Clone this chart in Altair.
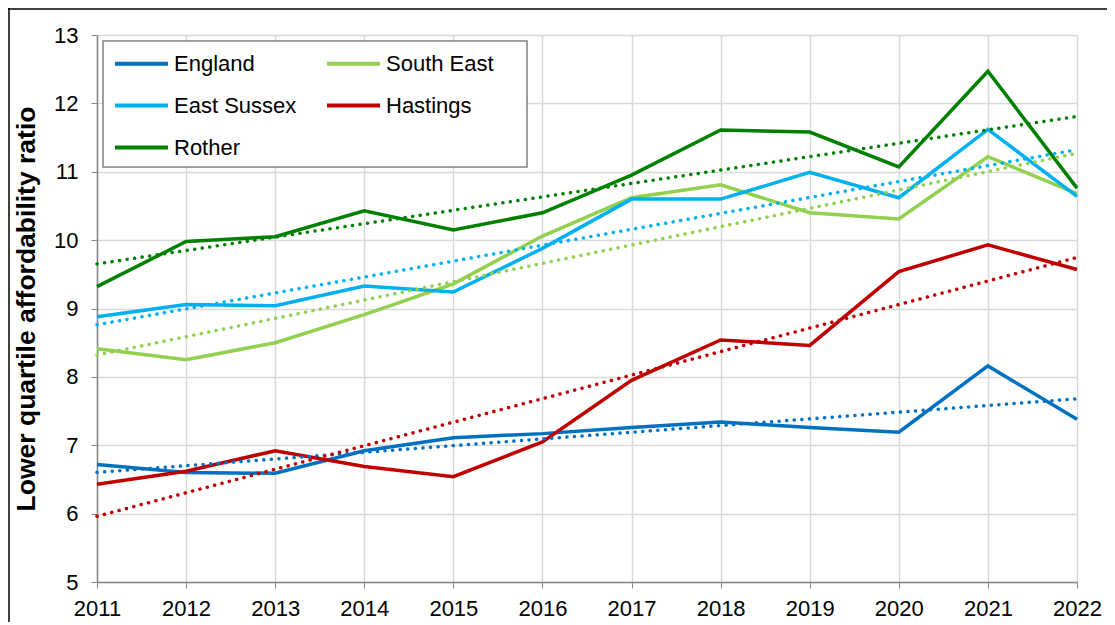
import altair as alt
import pandas as pd

years = [2011, 2012, 2013, 2014, 2015, 2016, 2017, 2018, 2019, 2020, 2021, 2022]
series_names = ["England", "South East", "East Sussex", "Hastings", "Rother"]
series_colors = ["#0070C0", "#92D050", "#00B0F0", "#C00000", "#008000"]

england = [6.72, 6.60, 6.59, 6.92, 7.11, 7.17, 7.26, 7.34, 7.26, 7.19, 8.16, 7.38]
south_east = [8.41, 8.25, 8.50, 8.91, 9.36, 10.06, 10.62, 10.81, 10.40, 10.31, 11.22, 10.68]
east_sussex = [8.88, 9.06, 9.04, 9.33, 9.24, 9.88, 10.60, 10.60, 10.99, 10.62, 11.62, 10.64]
hastings = [6.43, 6.62, 6.92, 6.69, 6.54, 7.05, 7.95, 8.54, 8.46, 9.54, 9.93, 9.57]
rother = [9.32, 9.98, 10.05, 10.43, 10.15, 10.40, 10.95, 11.61, 11.58, 11.07, 12.47, 10.76]

values_by_series = [england, south_east, east_sussex, hastings, rother]

rows = []
for name, vals in zip(series_names, values_by_series):
    for y, v in zip(years, vals):
        rows.append({"year": y, "ratio": v, "series": name})
df = pd.DataFrame(rows)

FONT = "Liberation Sans"

x_enc = alt.X(
    "year:Q",
    scale=alt.Scale(domain=[2011, 2022], nice=False, zero=False),
    axis=alt.Axis(
        values=years, format="d", title=None, labelFontSize=22, labelFont=FONT,
        labelColor="black", tickSize=6, labelPadding=10, domainColor="#868686",
        tickColor="#868686", gridColor="#D9D9D9", gridWidth=1.5, domainWidth=1.5,
        labelFlush=False,
    ),
)
y_enc = alt.Y(
    "ratio:Q",
    scale=alt.Scale(domain=[5, 13], nice=False, zero=False),
    axis=alt.Axis(
        values=[5, 6, 7, 8, 9, 10, 11, 12, 13], format="d",
        title="Lower quartile affordability ratio",
        titleFont=FONT, titleFontSize=26.5, titleFontWeight="bold", titleColor="black",
        titlePadding=13, labelFontSize=22, labelFont=FONT, labelColor="black",
        tickSize=6, labelPadding=13, domainColor="#868686", tickColor="#868686",
        gridColor="#D9D9D9", gridWidth=1.5, domainWidth=1.5,
    ),
)
color_enc = alt.Color(
    "series:N",
    scale=alt.Scale(domain=series_names, range=series_colors),
    legend=alt.Legend(
        orient="none", legendX=16, legendY=0, columns=2, direction="horizontal",
        title=None,
        symbolType="stroke", symbolSize=2809, symbolStrokeWidth=4, symbolDash=[1, 0],
        labelFont=FONT, labelFontSize=22, labelColor="black", labelOffset=4,
        padding=0, rowPadding=2, columnPadding=22,
    ),
)

base = alt.Chart(df)

# legend frame (white box with grey border behind the legend entries)
legend_box = alt.Chart(pd.DataFrame({"f": [0]})).mark_rect(
    fill="white", stroke="#808080", strokeWidth=1.5
).encode(
    x=alt.value(6), x2=alt.value(430), y=alt.value(6), y2=alt.value(132)
)

lines = base.mark_line(strokeWidth=3.5).encode(x=x_enc, y=y_enc, color=color_enc)

trends = base.transform_regression(
    "year", "ratio", groupby=["series"], extent=[2011, 2022]
).mark_line(strokeWidth=3.5, strokeDash=[0.1, 7.5], strokeCap="round").encode(
    x="year:Q", y="ratio:Q", color=alt.Color("series:N")
)

# outer chart border (top and left edges visible in the crop)
one = pd.DataFrame({"f": [0]})
frame_top = alt.Chart(one).mark_rule(stroke="black", strokeWidth=1.5).encode(
    x=alt.value(-89), x2=alt.value(1300), y=alt.value(-26)
)
frame_left = alt.Chart(one).mark_rule(stroke="black", strokeWidth=1.5).encode(
    x=alt.value(-88), y=alt.value(-27), y2=alt.value(900)
)

chart = alt.layer(legend_box, lines, trends, frame_top, frame_left).properties(
    width=980, height=547,
    autosize=alt.AutoSizeParams(type="none"),
    padding={"left": 89, "top": 27, "right": 30, "bottom": 40},
).configure_view(stroke=None).configure(background="white")

chart.save("out.html", embed_options={"renderer": "svg", "actions": False})
